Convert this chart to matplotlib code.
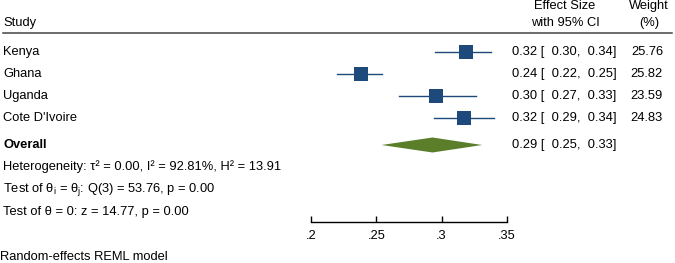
import matplotlib
matplotlib.use("Agg")
import matplotlib.pyplot as plt
from matplotlib.patches import Polygon

plt.rcParams["font.family"] = ["Liberation Sans", "DejaVu Sans"]
plt.rcParams["mathtext.default"] = "regular"

studies = ["Kenya", "Ghana", "Uganda", "Cote D'Ivoire"]
effect = [0.319, 0.238, 0.296, 0.317]
ci_low = [0.2951, 0.220, 0.267, 0.294]
ci_high = [0.338, 0.254, 0.326, 0.340]
weights = [25.76, 25.82, 23.59, 24.83]

overall = 0.293
overall_low = 0.254
overall_high = 0.331

stats_lines = [
    "Heterogeneity: τ² = 0.00, I² = 92.81%, H² = 13.91",
    r"Test of θ$_{i}$ = θ$_{j}$: Q(3) = 53.76, p = 0.00",
    "Test of θ = 0: z = 14.77, p = 0.00",
]
x_ticks = [0.2, 0.25, 0.3, 0.35]
tick_labels = [".2", ".25", ".3", ".35"]

W, H = 675, 263
BLUE = "#1d4a7a"
GREEN = "#5a7e2a"
FS = 9.3

fig = plt.figure(figsize=(W / 100, H / 100), dpi=100)

# text layer in pixel coordinates
tx = fig.add_axes([0, 0, 1, 1])
tx.set_xlim(0, W)
tx.set_ylim(H, 0)
tx.axis("off")

# plot layer spanning the .2 - .35 range horizontally
x0, x1 = 311, 507
ax = fig.add_axes([x0 / W, 0, (x1 - x0) / W, 1])
ax.set_xlim(x_ticks[0], x_ticks[-1])
ax.set_ylim(H, 0)
ax.axis("off")

rows_y = [52, 74, 96, 118]
overall_y = 145

# header
tx.text(3, 23, "Study", fontsize=FS, va="center", ha="left")
tx.text(565, 6, "Effect Size", fontsize=FS, va="center", ha="center")
tx.text(565, 23, "with 95% CI", fontsize=FS, va="center", ha="center")
tx.text(649, 6, "Weight", fontsize=FS, va="center", ha="center")
tx.text(649, 23, "(%)", fontsize=FS, va="center", ha="center")
tx.plot([3, 672], [33, 33], color="#444444", lw=1.1)

for name, es, lo, hi, w, y in zip(studies, effect, ci_low, ci_high, weights, rows_y):
    tx.text(3, y, name, fontsize=FS, va="center")
    ax.plot([lo, hi], [y, y], color=BLUE, lw=1.0, clip_on=False)
    ax.scatter([es], [y], marker="s", s=w * 4.0, color=BLUE, zorder=3, clip_on=False, linewidths=0)
    tx.text(512, y, f"{es:.2f} [ {lo:5.2f}, {hi:5.2f}]", fontsize=FS, va="center")
    tx.text(663, y, f"{w:.2f}", fontsize=FS, va="center", ha="right")

# overall diamond
diamond = Polygon(
    [(overall_low, overall_y), (overall, overall_y - 7.5),
     (overall_high, overall_y), (overall, overall_y + 7.5)],
    closed=True, facecolor=GREEN, edgecolor="none", clip_on=False,
)
ax.add_patch(diamond)
tx.text(3, overall_y, "Overall", fontsize=FS, fontweight="bold", va="center")
tx.text(512, overall_y, f"{overall:.2f} [ {overall_low:5.2f}, {overall_high:5.2f}]",
        fontsize=FS, va="center")

for line, y in zip(stats_lines, [167, 190, 212]):
    tx.text(3, y, line, fontsize=FS, va="center")

tx.text(0, 257, "Random-effects REML model", fontsize=FS, va="center")

# x axis
axis_y = 222
xa = fig.add_axes([x0 / W, (H - axis_y) / H, (x1 - x0) / W, 0.0001])
xa.set_xlim(x_ticks[0], x_ticks[-1])
xa.set_xticks(x_ticks)
xa.set_xticklabels(tick_labels, fontsize=FS)
xa.set_yticks([])
for side in ["top", "left", "right"]:
    xa.spines[side].set_visible(False)
xa.spines["bottom"].set_linewidth(1.0)
xa.tick_params(axis="x", direction="in", length=4, width=1.0, pad=6)
xa.patch.set_alpha(0)

fig.savefig("out.png", dpi=100)
